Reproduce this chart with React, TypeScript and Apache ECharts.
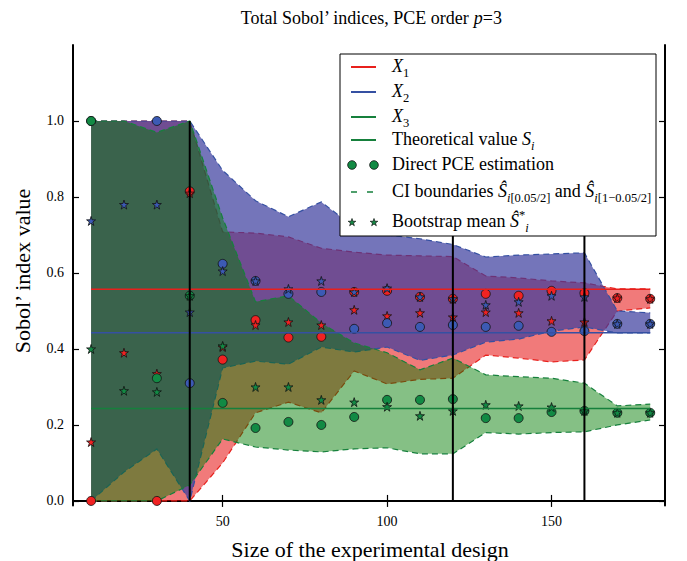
import React, { useEffect, useRef } from 'react';
import * as echarts from 'echarts';

// ---------- data ----------
const sizes = [10, 20, 30, 40, 50, 60, 70, 80, 90, 100, 110, 120, 130, 140, 150, 160, 170, 180];

const x1Lower = [0, 0, 0, 0, 0.10, 0.232, 0.26, 0.232, 0.342, 0.308, 0.32, 0.323, 0.384, 0.376, 0.366, 0.371, 0.50, 0.508];
const x1Upper = [1, 1, 1, 1, 0.708, 0.705, 0.695, 0.665, 0.655, 0.647, 0.645, 0.643, 0.592, 0.587, 0.579, 0.574, 0.558, 0.558];
const x2Lower = [0, 0.076, 0.137, 0, 0.35, 0.368, 0.36, 0.405, 0.392, 0.405, 0.37, 0.384, 0.418, 0.426, 0.447, 0.458, 0.442, 0.442];
const x2Upper = [1, 1, 1, 1, 0.87, 0.79, 0.748, 0.787, 0.72, 0.70, 0.69, 0.675, 0.642, 0.647, 0.65, 0.653, 0.50, 0.495];
const x3Lower = [0, 0, 0, 0.042, 0.163, 0.142, 0.134, 0.129, 0.137, 0.14, 0.124, 0.124, 0.18, 0.176, 0.18, 0.182, 0.20, 0.213];
const x3Upper = [1, 1, 0.97, 1, 0.745, 0.524, 0.54, 0.468, 0.416, 0.39, 0.345, 0.376, 0.332, 0.327, 0.323, 0.31, 0.25, 0.255];

const x1Direct = [0, null, 0, 0.815, 0.372, 0.476, 0.43, 0.432, 0.55, 0.553, 0.537, 0.532, 0.545, 0.54, 0.553, 0.547, 0.534, 0.532];
const x1Boot = [0.155, 0.39, 0.335, 0.81, 0.405, 0.463, 0.471, 0.463, 0.503, 0.487, 0.495, 0.484, 0.497, 0.495, 0.474, 0.471, 0.534, 0.532];
const x2Direct = [1.0, null, 1.0, 0.31, 0.624, 0.579, 0.545, 0.55, 0.453, 0.468, 0.458, 0.463, 0.458, 0.461, 0.445, 0.447, 0.466, 0.466];
const x2Boot = [0.737, 0.78, 0.78, 0.497, 0.605, 0.579, 0.558, 0.579, 0.55, 0.56, 0.537, 0.532, 0.516, 0.524, 0.54, 0.537, 0.466, 0.466];
const x3Direct = [1.0, null, 0.323, 0.54, 0.258, 0.192, 0.208, 0.2, 0.221, 0.266, 0.266, 0.268, 0.218, 0.218, 0.234, 0.237, 0.232, 0.232];
const x3Boot = [0.40, 0.29, 0.287, 0.54, 0.408, 0.30, 0.30, 0.266, 0.26, 0.248, 0.224, 0.237, 0.253, 0.25, 0.247, 0.237, 0.232, 0.232];

const theoretical = [0.5574, 0.4424, 0.2436];
const verticalMarks = [40, 120, 160];
const verticalRange = [0, 1.0];

const xTicks = [50, 100, 150];
const yTicks = [0, 0.2, 0.4, 0.6, 0.8, 1.0];

// ---------- style ----------
const FONT = 'Liberation Serif';
const RED = '#e8201c';
const BLUE = '#3550a2';
const GREEN = '#16803c';
const RED_M = '#f02222';
const BLUE_M = '#3c5ab4';
const GREEN_M = '#128a44';
const RED_FILL = 'rgba(228,0,0,0.52)';
const BLUE_FILL = 'rgba(57,59,156,0.7)';
const GREEN_FILL = 'rgba(0,124,0,0.48)';

const STAR =
  'path://M0,-1L0.2245,-0.309L0.951,-0.309L0.363,0.118L0.588,0.809L0,0.382L-0.588,0.809L-0.363,0.118L-0.951,-0.309L-0.2245,-0.309Z';

function band(lower: number[], upper: number[], color: string, fill: string) {
  return {
    type: 'custom',
    silent: true,
    clip: true,
    data: sizes.map((x, i) => [x, lower[i], upper[i]]),
    encode: { x: 0, y: [1, 2] },
    renderItem: (params: any, api: any) => {
      if (params.dataIndex !== 0) return null;
      const lo: number[][] = [];
      const up: number[][] = [];
      for (let i = 0; i < sizes.length; i++) {
        const x = api.value(0, i);
        lo.push(api.coord([x, api.value(1, i)]));
        up.push(api.coord([x, api.value(2, i)]));
      }
      const line = { stroke: color, lineWidth: 1.2, lineDash: [6, 4], fill: null };
      return {
        type: 'group',
        children: [
          { type: 'polygon', shape: { points: lo.concat(up.slice().reverse()) }, style: { fill, stroke: null } },
          { type: 'polyline', shape: { points: lo }, style: line },
          { type: 'polyline', shape: { points: up }, style: line },
        ],
      };
    },
  };
}

function points(vals: (number | null)[], symbol: string, color: string, size: number) {
  return {
    type: 'scatter',
    symbol,
    symbolSize: size,
    data: sizes.map((x, i) => [x, vals[i]]).filter((d) => d[1] !== null),
    itemStyle: { color, borderColor: '#111', borderWidth: 0.8, opacity: 1 },
    silent: true,
  };
}

function starPts(cx: number, cy: number, r: number) {
  const pts: number[][] = [];
  for (let k = 0; k < 10; k++) {
    const rr = k % 2 === 0 ? r : r * 0.382;
    const a = -Math.PI / 2 + (k * Math.PI) / 5;
    pts.push([cx + rr * Math.cos(a), cy + rr * Math.sin(a)]);
  }
  return pts;
}

const base = { fontFamily: FONT, fontSize: 18, fill: '#000', lineHeight: 26 };
const rich = {
  n: { ...base },
  it: { ...base, fontStyle: 'italic' },
  big: { ...base, fontSize: 22, lineHeight: 28 },
  sub: { fontFamily: FONT, fontSize: 12.5, fill: '#000', lineHeight: 12, verticalAlign: 'bottom' },
  subi: { fontFamily: FONT, fontSize: 12.5, fill: '#000', lineHeight: 12, verticalAlign: 'bottom', fontStyle: 'italic' },
  sup: { fontFamily: FONT, fontSize: 12.5, fill: '#000', lineHeight: 12, verticalAlign: 'top' },
};

function richText(x: number, y: number, text: string, align = 'left', extra: any = {}) {
  return {
    type: 'text',
    x,
    y,
    z: 60,
    ...extra,
    style: {
      text,
      rich,
      fontFamily: FONT,
      fontSize: 18,
      fill: '#000',
      align,
      verticalAlign: 'middle',
      textAlign: align,
      textVerticalAlign: 'middle',
    },
  };
}

function buildLegend() {
  const L = 340, T = 54, W = 316, H = 182;
  const ix1 = 352, ix2 = 374, tx = 392;
  const els: any[] = [
    { type: 'rect', z: 55, shape: { x: L, y: T, width: W, height: H }, style: { fill: '#fff', stroke: '#000', lineWidth: 1 } },
  ];
  const rows = [
    { kind: 'line', color: RED, y: 67, text: '{it|X}{sub|1}' },
    { kind: 'line', color: BLUE, y: 92, text: '{it|X}{sub|2}' },
    { kind: 'line', color: GREEN, y: 117, text: '{it|X}{sub|3}' },
    { kind: 'line', color: GREEN, y: 140, text: '{n|Theoretical value }{it|S}{subi|i}' },
    { kind: 'dots', color: GREEN_M, y: 165, text: '{n|Direct PCE estimation}' },
    { kind: 'dash', color: GREEN, y: 192, text: '{n|CI boundaries }{it|Ŝ}{subi|i}{sub|[0.05/2]}{n| and }{it|Ŝ}{subi|i}{sub|[1−0.05/2]}' },
    { kind: 'stars', color: GREEN_M, y: 222, text: '{n|Bootstrap mean }{it|Ŝ}{sup|*}{subi|i}' },
  ];
  rows.forEach((r) => {
    if (r.kind === 'line') {
      els.push({ type: 'line', z: 60, shape: { x1: ix1 - 1, y1: r.y, x2: ix2 + 2, y2: r.y }, style: { stroke: r.color, lineWidth: 2 } });
    } else if (r.kind === 'dash') {
      els.push({ type: 'line', z: 60, shape: { x1: ix1 - 1, y1: r.y, x2: ix2 + 2, y2: r.y }, style: { stroke: r.color, lineWidth: 1.5, lineDash: [6, 10] } });
    } else if (r.kind === 'dots') {
      [ix1, ix2].forEach((cx) =>
        els.push({ type: 'circle', z: 60, shape: { cx, cy: r.y, r: 4.3 }, style: { fill: r.color, stroke: '#111', lineWidth: 0.8 } })
      );
    } else {
      [ix1, ix2].forEach((cx) =>
        els.push({ type: 'polygon', z: 60, shape: { points: starPts(cx, r.y + 0.5, 4) }, style: { fill: r.color, stroke: '#111', lineWidth: 0.7 } })
      );
    }
    els.push(richText(tx, r.y - 1, r.text));
  });
  return els;
}

export default function App() {
  const ref = useRef<HTMLDivElement>(null);
  useEffect(() => {
    if (!ref.current) return;
    document.body.style.margin = '0';
    const chart = echarts.init(ref.current, undefined, { renderer: 'svg' });
    const xMin = 4.5, xMax = 184.5, yMin = -0.012, yMax = 1.2;
    const axisLine = { show: true, lineStyle: { color: '#000', width: 2 } };
    const tickStyle = { inside: true, length: 6, lineStyle: { color: '#000', width: 1.2 } };
    const labelStyle = { fontFamily: FONT, fontSize: 14, color: '#000' };

    const series: any[] = [
      band(x1Lower, x1Upper, RED, RED_FILL),
      band(x2Lower, x2Upper, BLUE, BLUE_FILL),
      band(x3Lower, x3Upper, GREEN, GREEN_FILL),
    ];
    const thColors = [RED, BLUE, GREEN];
    theoretical.forEach((v, i) => {
      series.push({
        type: 'line',
        data: [
          [sizes[0], v],
          [sizes[sizes.length - 1], v],
        ],
        symbol: 'none',
        silent: true,
        lineStyle: { color: thColors[i], width: 1.5 },
      });
    });
    verticalMarks.forEach((x) => {
      series.push({
        type: 'line',
        data: [
          [x, verticalRange[0]],
          [x, verticalRange[1]],
        ],
        symbol: 'none',
        silent: true,
        lineStyle: { color: '#000', width: 2 },
      });
    });
    series.push(points(x1Direct, 'circle', RED_M, 9));
    series.push(points(x1Boot, STAR, RED_M, 9));
    series.push(points(x2Direct, 'circle', BLUE_M, 9));
    series.push(points(x2Boot, STAR, BLUE_M, 9));
    series.push(points(x3Direct, 'circle', GREEN_M, 9));
    series.push(points(x3Boot, STAR, GREEN_M, 9));

    chart.setOption({
      animation: false,
      grid: { left: 73, right: 22, top: 45, bottom: 55.5, containLabel: false },
      xAxis: [
        {
          type: 'value',
          min: xMin,
          max: xMax,
          position: 'bottom',
          axisLine,
          axisTick: { ...tickStyle, customValues: xTicks },
          axisLabel: { ...labelStyle, margin: 9, customValues: xTicks, formatter: (v: number) => String(v) },
          splitLine: { show: false },
        },
        {
          type: 'value',
          min: xMin,
          max: xMax,
          position: 'top',
          axisLine,
          axisTick: { ...tickStyle, customValues: xTicks },
          axisLabel: { show: false },
          splitLine: { show: false },
        },
      ],
      yAxis: [
        {
          type: 'value',
          min: yMin,
          max: yMax,
          position: 'left',
          axisLine,
          axisTick: { ...tickStyle, customValues: yTicks },
          axisLabel: { ...labelStyle, margin: 9, customValues: yTicks, formatter: (v: number) => v.toFixed(1) },
          splitLine: { show: false },
        },
        {
          type: 'value',
          min: yMin,
          max: yMax,
          position: 'right',
          axisLine,
          axisTick: { ...tickStyle, customValues: yTicks },
          axisLabel: { show: false },
          splitLine: { show: false },
        },
      ],
      series,
      graphic: [
        richText(371, 18, '{n|Total Sobol\u2019 indices, PCE order }{it|p}{n|=3}', 'center'),
        richText(370, 549, '{big|Size of the experimental design}', 'center'),
        richText(22, 271, '{big|Sobol\u2019 index value}', 'center', { rotation: Math.PI / 2 }),
        ...buildLegend(),
      ],
    });
    return () => chart.dispose();
  }, []);
  return <div ref={ref} style={{ width: 687, height: 561 }} />;
}
